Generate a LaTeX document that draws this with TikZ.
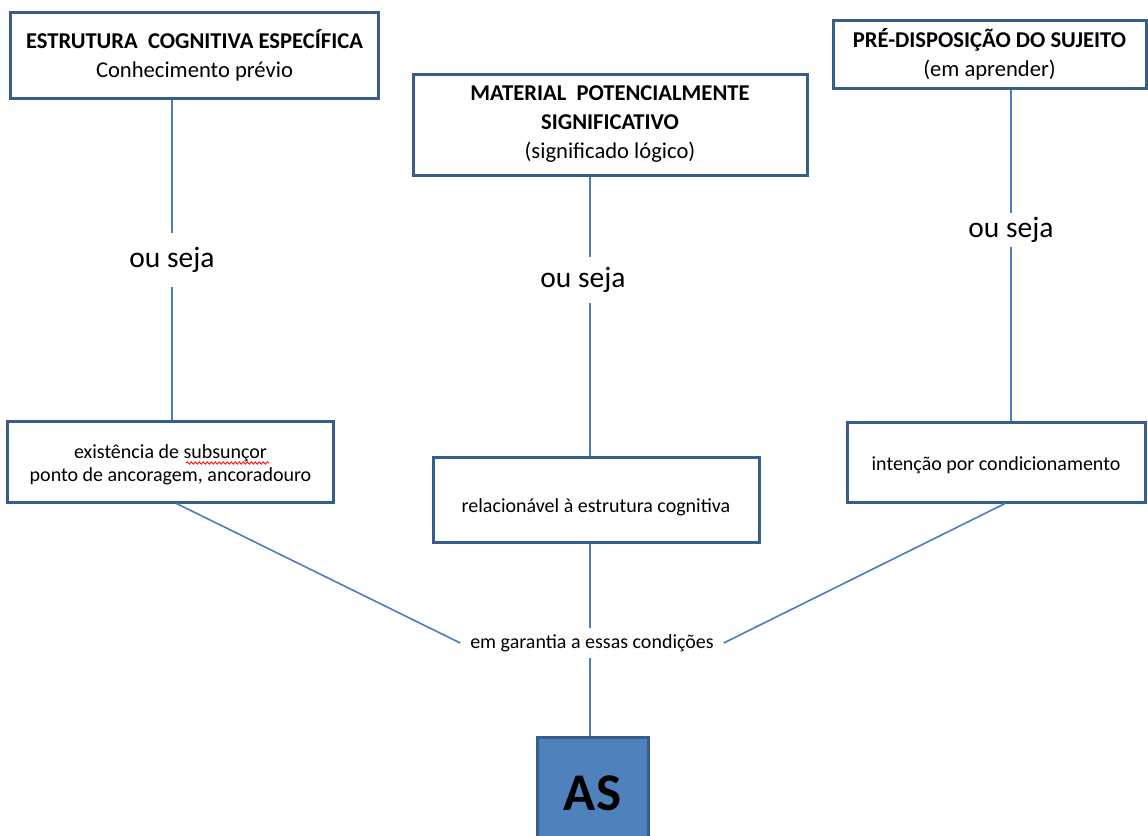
\documentclass[tikz,border=0pt]{standalone}
\usepackage{fontspec}
\setmainfont{Carlito}
\usetikzlibrary{decorations.pathmorphing}
\definecolor{boxline}{HTML}{385D8A}
\definecolor{conline}{HTML}{4A7EBB}
\definecolor{asfill}{HTML}{4F81BD}
\tikzset{
  box/.style={draw=boxline, line width=3bp, fill=white, align=center, inner sep=0pt},
  boxtext/.style={inner sep=0pt, align=center},
  conn/.style={draw=conline, line width=1.6bp},
  titlefont/.style={font=\fontsize{22.6bp}{29bp}\selectfont},
  smallfont/.style={font=\fontsize{20bp}{23bp}\selectfont},
  lbl/.style={font=\fontsize{29.5bp}{34bp}\selectfont, inner sep=0pt, align=center},
  lblsmall/.style={font=\fontsize{20bp}{23bp}\selectfont, inner sep=0pt, align=center},
}
\begin{document}
\begin{tikzpicture}[x=1bp,y=-1bp]
\useasboundingbox (0,0) rectangle (1148,836);
\clip (0,0) rectangle (1148,836);
\fill[white] (0,0) rectangle (1148,836);

% top boxes
\node[box, titlefont, minimum width=367bp, minimum height=85bp] (b1) at (194.5,55.5)
  {\textbf{ESTRUTURA\ \ COGNITIVA ESPECÍFICA}\\Conhecimento prévio};
\node[box, titlefont, minimum width=394bp, minimum height=101bp] (b2) at (610,124.5)
  {\textbf{MATERIAL\ \ POTENCIALMENTE}\\\textbf{SIGNIFICATIVO}\\(significado lógico)};
\node[box, titlefont, minimum width=313bp, minimum height=67bp] (b3) at (989.5,54.5)
  {\textbf{PRÉ-DISPOSIÇÃO DO SUJEITO}\\(em aprender)};

% lower boxes
\node[box, minimum width=325bp, minimum height=81bp] (b4) at (170.5,461.5) {};
\node[boxtext, smallfont] (t4) at (170.5,465) {existência de subsunçor\\ponto de ancoragem, ancoradouro};
\node[box, minimum width=326bp, minimum height=85bp] (b5) at (596,499.5) {};
\node[boxtext, smallfont] (t5) at (596,507) {relacionável à estrutura cognitiva};
\node[box, minimum width=298bp, minimum height=80bp] (b6) at (996,462) {};
\node[boxtext, smallfont] (t6) at (996,465) {intenção por condicionamento};

% spell-check underline
\draw[red, line width=0.8bp, decorate, decoration={snake, amplitude=1.2bp, segment length=4bp}]
  (186,463) -- (269,463);

% AS box
\node[draw=boxline, line width=3bp, fill=asfill, minimum width=111bp, minimum height=113bp,
      inner sep=0pt] (as) at (592.5,793.5) {};
\node[font=\fontsize{53bp}{55bp}\selectfont\bfseries, inner sep=0pt] (astext) at (592.5,793) {AS};

% labels
\node[lbl, minimum height=54bp] (l1) at (172,260) {ou seja};
\node[lbl, minimum height=46bp] (l2) at (583,280) {ou seja};
\node[lbl, minimum height=34bp] (l3) at (1011,230) {ou seja};
\node[lblsmall, minimum width=263bp, minimum height=29bp] (gar) at (592,643) {em garantia a essas condições};

\coordinate (mx) at (590,0);

% connectors
\draw[conn] (b1.south -| l1) -- (l1.north);
\draw[conn] (l1.south) -- (b4.north -| l1);
\draw[conn] (b2.south -| mx) -- (l2.north -| mx);
\draw[conn] (l2.south -| mx) -- (b5.north -| mx);
\draw[conn] (b3.south -| l3) -- (l3.north);
\draw[conn] (l3.south) -- (b6.north -| l3);
\draw[conn] (b5.south -| mx) -- (gar.north -| mx);
\draw[conn] (gar.south -| mx) -- (as.north -| mx);
\draw[conn] ([xshift=6bp]b4.south) -- (gar.west);
\draw[conn] ([xshift=9bp]b6.south) -- (gar.east);
\end{tikzpicture}
\end{document}
